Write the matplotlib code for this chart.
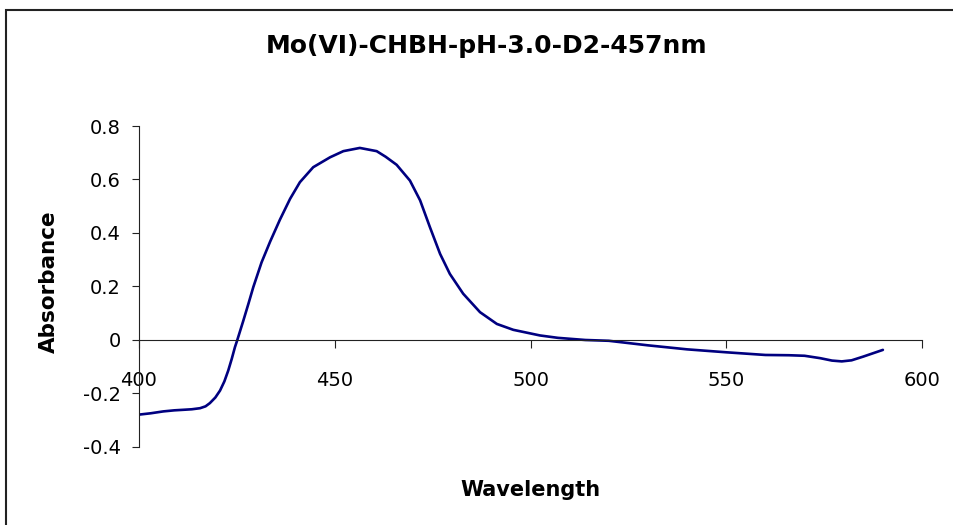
import matplotlib
matplotlib.use('Agg')
import matplotlib.pyplot as plt
from matplotlib.patches import Rectangle

# spectrum
wavelength = [400, 403, 406.2, 409, 411.3, 413.5, 415.6, 417, 418.1, 419.5, 420.7,
              421.8, 422.8, 423.7, 424.5, 425.0, 426.6, 428, 429.2, 431.3, 433.5,
              436.0, 438.6, 441.1, 444.5, 448.8, 452.2, 456.4, 460.7, 463,
              465.8, 469.2, 471.8, 474.3, 476.9, 479.4, 482.8, 487.1, 491.4,
              495.6, 502.4, 507, 514, 520, 530, 540, 550, 560, 566, 570, 574,
              577, 579.5, 582, 585, 590]
absorbance = [-0.279, -0.274, -0.267, -0.263, -0.261, -0.259, -0.255, -0.248, -0.236,
              -0.215, -0.189, -0.155, -0.114, -0.07, -0.027, -0.005, 0.07, 0.138,
              0.198, 0.29, 0.368, 0.45, 0.528, 0.59, 0.646, 0.683, 0.706, 0.718,
              0.706, 0.685, 0.655, 0.596, 0.522, 0.422, 0.322, 0.247, 0.173,
              0.104, 0.06, 0.038, 0.017, 0.008, 0.0, -0.003, -0.02, -0.035,
              -0.046, -0.056, -0.057, -0.059, -0.068, -0.077, -0.08, -0.076,
              -0.062, -0.037]

x_ticks = [400, 450, 500, 550, 600]
y_ticks = [-0.4, -0.2, 0, 0.2, 0.4, 0.6, 0.8]
y_tick_labels = ['-0.4', '-0.2', '0', '0.2', '0.4', '0.6', '0.8']

title = 'Mo(VI)-CHBH-pH-3.0-D2-457nm'
x_label = 'Wavelength'
y_label = 'Absorbance'

plt.rcParams['font.family'] = ['DejaVu Sans']

fig = plt.figure(figsize=(9.54, 5.25), dpi=100)
ax = fig.add_axes([0.1457, 0.1486, 0.8208, 0.6114])

ax.plot(wavelength, absorbance, color='#000080', lw=1.9,
        solid_joinstyle='round', solid_capstyle='round')

ax.set_xlim(400, 600)
ax.set_ylim(-0.4, 0.8)
ax.set_xticks(x_ticks)
ax.set_yticks(y_ticks)
ax.set_yticklabels(y_tick_labels)

for side in ('top', 'right'):
    ax.spines[side].set_visible(False)
ax.spines['bottom'].set_position(('data', 0))
for side in ('bottom', 'left'):
    ax.spines[side].set_linewidth(0.8)
    ax.spines[side].set_color('#222222')

ax.tick_params(axis='x', direction='out', length=6, width=0.8, pad=16,
               labelsize=14, colors='#222222', labelcolor='black')
ax.tick_params(axis='y', direction='out', length=5, width=0.8, pad=8,
               labelsize=14, colors='#222222', labelcolor='black')

fig.text(0.51, 1 - 46 / 525, title, ha='center', va='center',
         fontsize=18, fontweight='bold')
fig.text(530 / 954, 1 - 490 / 525, x_label, ha='center', va='center',
         fontsize=15, fontweight='bold')
fig.text(49 / 954, 1 - 282 / 525, y_label, ha='center', va='center',
         rotation=90, fontsize=15.5, fontweight='bold')

# chart area border (only top and left edges fall inside the picture)
fig.add_artist(Rectangle((6 / 954, -0.05), 1.1, 1.05 - 10 / 525,
                         transform=fig.transFigure, fill=False,
                         lw=1.5, edgecolor='#222222'))

fig.savefig('out.png', dpi=100)
